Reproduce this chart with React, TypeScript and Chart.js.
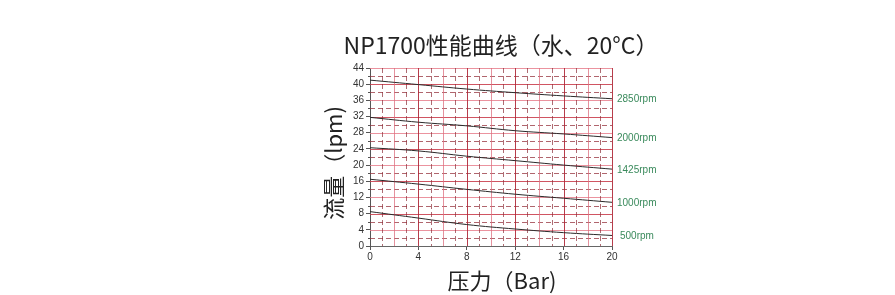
import React, { useEffect, useRef } from "react";
import { Chart, registerables } from "chart.js";

Chart.register(...registerables);

const pressures = [0, 4, 8, 12, 16, 20];
const rpmLabels = ["2850rpm", "2000rpm", "1425rpm", "1000rpm", "500rpm"];
const flow2850 = [41.0, 39.9, 38.8, 37.9, 37.1, 36.4];
const flow2000 = [31.8, 30.6, 29.7, 28.5, 27.7, 26.8];
const flow1425 = [24.3, 23.5, 22.2, 21.1, 20.0, 19.0];
const flow1000 = [16.5, 15.3, 14.0, 12.8, 11.8, 10.8];
const flow500 = [8.5, 6.9, 5.3, 4.2, 3.3, 2.6];
const allFlows = [flow2850, flow2000, flow1425, flow1000, flow500];

const titleText = "NP1700性能曲线（水、20°C）";
const yTitle = "流量（lpm)";
const xTitle = "压力（Bar)";

const FONT = "'Noto Sans CJK SC', 'Noto Sans', sans-serif";
const SANS = "'Liberation Sans', Arial, sans-serif";

const gridPlugin = {
  id: "customGrid",
  beforeDatasetsDraw(chart: any) {
    const { ctx, chartArea, scales } = chart;
    const xs = scales.x;
    const ys = scales.y;
    ctx.save();
    ctx.lineWidth = 1;
    for (let v = 2; v <= 44; v += 2) {
      const y = Math.round(ys.getPixelForValue(v)) + 0.5;
      if (v % 4 === 0) {
        ctx.setLineDash([]);
        ctx.strokeStyle = v % 8 === 0 ? "rgba(200,55,70,0.85)" : "rgba(230,120,135,0.8)";
      } else {
        ctx.setLineDash([5, 3]);
        ctx.strokeStyle = "rgba(150,50,60,0.75)";
      }
      ctx.beginPath();
      ctx.moveTo(chartArea.left, y);
      ctx.lineTo(chartArea.right, y);
      ctx.stroke();
    }
    for (let v = 1; v <= 20; v += 1) {
      const x = Math.round(xs.getPixelForValue(v)) + 0.5;
      if (v % 4 === 0) {
        ctx.setLineDash([]);
        ctx.strokeStyle = "rgba(175,40,55,0.9)";
      } else if (v % 2 === 0) {
        ctx.setLineDash([]);
        ctx.strokeStyle = "rgba(220,110,125,0.75)";
      } else {
        ctx.setLineDash([5, 3]);
        ctx.strokeStyle = "rgba(140,45,55,0.7)";
      }
      ctx.beginPath();
      ctx.moveTo(x, chartArea.top);
      ctx.lineTo(x, chartArea.bottom);
      ctx.stroke();
    }
    ctx.setLineDash([]);
    ctx.strokeStyle = "#555";
    for (let v = 2; v <= 44; v += 4) {
      const y = Math.round(ys.getPixelForValue(v)) + 0.5;
      ctx.beginPath();
      ctx.moveTo(chartArea.left - 2, y);
      ctx.lineTo(chartArea.left, y);
      ctx.stroke();
    }
    ctx.restore();
  },
  afterDraw(chart: any) {
    const { ctx, scales } = chart;
    const xs = scales.x;
    const ys = scales.y;
    ctx.save();
    ctx.fillStyle = "#222";
    ctx.textAlign = "center";
    ctx.textBaseline = "middle";
    ctx.font = `23px ${FONT}`;
    ctx.fillText(titleText, 501, 45);
    ctx.font = `22px ${FONT}`;
    ctx.fillText(xTitle, 502, 281);
    ctx.save();
    ctx.translate(334, 163);
    ctx.rotate(-Math.PI / 2);
    ctx.fillText(yTitle, 0, 0);
    ctx.restore();
    ctx.fillStyle = "#3a8a5c";
    ctx.font = `10px ${SANS}`;
    ctx.textAlign = "left";
    allFlows.forEach((arr, i) => {
      const last = arr[arr.length - 1];
      const y = ys.getPixelForValue(last) + 1;
      const x = xs.getPixelForValue(pressures[pressures.length - 1]) + (i === 4 ? 8 : 5);
      ctx.fillText(rpmLabels[i], x, y);
    });
    ctx.restore();
  },
};

export default function App() {
  const ref = useRef<HTMLCanvasElement | null>(null);
  useEffect(() => {
    if (!ref.current) return;
    const datasets = allFlows.map((arr, i) => ({
      label: rpmLabels[i],
      data: arr.map((v, j) => ({ x: pressures[j], y: v })),
      borderColor: "#2a2a2a",
      borderWidth: 1,
      pointRadius: 0,
      tension: 0.4,
      fill: false,
    }));
    const chart = new Chart(ref.current, {
      type: "line",
      data: { datasets },
      options: {
        animation: false,
        responsive: false,
        maintainAspectRatio: false,
        layout: { padding: { left: 300, right: 283, top: 68, bottom: 0 } },
        plugins: { legend: { display: false }, title: { display: false }, tooltip: { enabled: false } },
        scales: {
          x: {
            type: "linear",
            min: 0,
            max: 20,
            ticks: { stepSize: 4, color: "#333", font: { size: 10, family: SANS }, padding: 1, maxRotation: 0 },
            grid: { drawOnChartArea: false, drawTicks: true, tickLength: 4, color: "#555" },
            border: { display: true, color: "#666", width: 1 },
            afterFit: (s: any) => { s.height = 49; },
          },
          y: {
            type: "linear",
            min: 0,
            max: 44,
            ticks: { stepSize: 4, color: "#333", font: { size: 10, family: SANS }, padding: 2 },
            grid: { drawOnChartArea: false, drawTicks: true, tickLength: 4, color: "#555" },
            border: { display: true, color: "#555", width: 1 },
            afterFit: (s: any) => { s.width = 70; },
          },
        },
      },
      plugins: [gridPlugin],
    });
    return () => chart.destroy();
  }, []);
  return (
    <div style={{ position: "fixed", left: 0, top: 0, width: 895, height: 295, background: "#fff" }}>
      <canvas ref={ref} width={895} height={295} style={{ width: 895, height: 295 }} />
    </div>
  );
}
